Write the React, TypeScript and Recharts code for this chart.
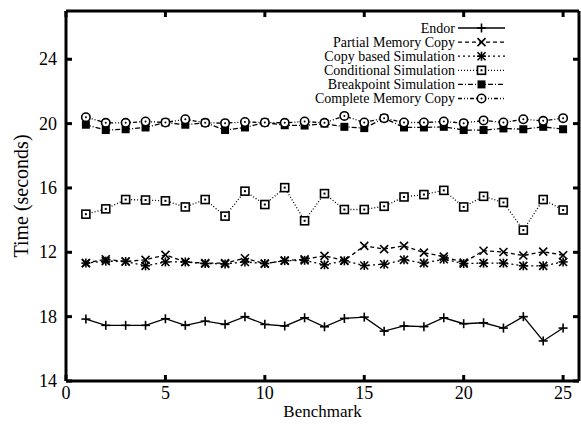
import React from 'react';
import { LineChart, Line, XAxis, YAxis, Label } from 'recharts';

const benchmarks = [1, 2, 3, 4, 5, 6, 7, 8, 9, 10, 11, 12, 13, 14, 15, 16, 17, 18, 19, 20, 21, 22, 23, 24, 25];

const endor = [7.85, 7.46, 7.46, 7.46, 7.87, 7.46, 7.72, 7.52, 8.0, 7.52, 7.42, 7.93, 7.37, 7.89, 7.97, 7.1, 7.42, 7.38, 7.93, 7.56, 7.62, 7.29, 8.0, 6.49, 7.29];
const partialCopy = [11.33, 11.57, 11.43, 11.53, 11.84, 11.4, 11.33, 11.33, 11.63, 11.3, 11.48, 11.57, 11.78, 11.49, 12.4, 12.2, 12.4, 11.98, 11.73, 11.36, 12.1, 12.02, 11.8, 12.04, 11.82];
const copySim = [11.33, 11.45, 11.43, 11.16, 11.4, 11.4, 11.3, 11.28, 11.4, 11.3, 11.48, 11.5, 11.22, 11.47, 11.18, 11.26, 11.53, 11.33, 11.57, 11.3, 11.33, 11.33, 11.16, 11.16, 11.4];
const conditional = [14.37, 14.7, 15.28, 15.25, 15.2, 14.82, 15.28, 14.25, 15.8, 14.97, 16.02, 13.96, 15.65, 14.66, 14.66, 14.86, 15.44, 15.59, 15.85, 14.82, 15.48, 15.1, 13.38, 15.28, 14.63];
const breakpoint = [19.93, 19.6, 19.65, 19.76, 20.07, 19.93, 20.05, 19.6, 19.76, 20.07, 19.9, 19.88, 20.0, 19.8, 19.72, 20.34, 19.76, 19.76, 19.8, 19.6, 19.6, 19.7, 19.65, 19.8, 19.65];
const completeCopy = [20.4, 20.05, 20.05, 20.13, 20.07, 20.27, 20.05, 20.03, 20.1, 20.07, 20.05, 20.13, 20.05, 20.48, 20.07, 20.34, 20.07, 20.07, 20.13, 20.03, 20.2, 20.07, 20.27, 20.17, 20.34];

const xTicks = [0, 5, 10, 15, 20, 25];
const yTicks = [4, 8, 12, 16, 20, 24];
const yTickLabels = ['14', '18', '12', '16', '20', '24'];

const FONT = "'Liberation Serif', 'Times New Roman', serif";

type Marker = 'plus' | 'cross' | 'star' | 'square' | 'filled' | 'circle';

const series: { key: string; name: string; dash: string; marker: Marker }[] = [
  { key: 'endor', name: 'Endor', dash: '', marker: 'plus' },
  { key: 'partial', name: 'Partial Memory Copy', dash: '4 3', marker: 'cross' },
  { key: 'copysim', name: 'Copy based Simulation', dash: '2 3', marker: 'star' },
  { key: 'cond', name: 'Conditional Simulation', dash: '1 2', marker: 'square' },
  { key: 'bp', name: 'Breakpoint Simulation', dash: '5 2 1 2', marker: 'filled' },
  { key: 'complete', name: 'Complete Memory Copy', dash: '4 2 1 2 1 2', marker: 'circle' },
];

const data = benchmarks.map((b, i) => ({
  b,
  endor: endor[i],
  partial: partialCopy[i],
  copysim: copySim[i],
  cond: conditional[i],
  bp: breakpoint[i],
  complete: completeCopy[i],
}));

const drawMarker = (m: Marker, cx: number, cy: number) => {
  const s = { stroke: '#000', strokeWidth: 1.6, fill: 'none' };
  switch (m) {
    case 'plus':
      return (
        <g>
          <line x1={cx - 4.5} y1={cy} x2={cx + 4.5} y2={cy} {...s} />
          <line x1={cx} y1={cy - 4.5} x2={cx} y2={cy + 4.5} {...s} />
        </g>
      );
    case 'cross':
      return (
        <g>
          <line x1={cx - 4} y1={cy - 4} x2={cx + 4} y2={cy + 4} {...s} />
          <line x1={cx - 4} y1={cy + 4} x2={cx + 4} y2={cy - 4} {...s} />
        </g>
      );
    case 'star':
      return (
        <g>
          <line x1={cx - 4} y1={cy - 4} x2={cx + 4} y2={cy + 4} {...s} />
          <line x1={cx - 4} y1={cy + 4} x2={cx + 4} y2={cy - 4} {...s} />
          <line x1={cx - 4.5} y1={cy} x2={cx + 4.5} y2={cy} {...s} />
          <line x1={cx} y1={cy - 4.5} x2={cx} y2={cy + 4.5} {...s} />
        </g>
      );
    case 'square':
      return (
        <g>
          <rect x={cx - 4} y={cy - 4} width={8} height={8} {...s} fill="#fff" />
          <rect x={cx - 1} y={cy - 1} width={2} height={2} fill="#000" />
        </g>
      );
    case 'filled':
      return <rect x={cx - 4} y={cy - 4} width={8} height={8} fill="#000" />;
    case 'circle':
      return (
        <g>
          <circle cx={cx} cy={cy} r={4.2} {...s} fill="#fff" />
          <circle cx={cx} cy={cy} r={1} fill="#000" />
        </g>
      );
  }
};

const textStyle = { fontFamily: FONT, fill: '#000' };

const BottomTick = (p: any) => (
  <g>
    <line x1={p.x} y1={p.y} x2={p.x} y2={p.y - 6} stroke="#000" strokeWidth={3} />
    <text x={p.x} y={p.y + 18} textAnchor="middle" style={{ ...textStyle, fontSize: 18 }}>
      {p.payload.value}
    </text>
  </g>
);

const TopTick = (p: any) => (
  <line x1={p.x} y1={p.y} x2={p.x} y2={p.y + 6} stroke="#000" strokeWidth={3} />
);

const LeftTick = (p: any) => (
  <g>
    <line x1={p.x} y1={p.y} x2={p.x + 6} y2={p.y} stroke="#000" strokeWidth={3} />
    <text x={p.x - 9} y={p.y + 6} textAnchor="end" style={{ ...textStyle, fontSize: 18 }}>
      {yTickLabels[yTicks.indexOf(p.payload.value)]}
    </text>
  </g>
);

const RightTick = (p: any) => (
  <line x1={p.x} y1={p.y} x2={p.x - 6} y2={p.y} stroke="#000" strokeWidth={3} />
);

const LegendBox = () => (
  <svg width={210} height={90} style={{ position: 'absolute', left: 300, top: 19 }}>
    {series.map((s, i) => {
      const y = 9 + i * 14.1;
      return (
        <g key={s.key}>
          <text x={155} y={y + 4.5} textAnchor="end" style={{ ...textStyle, fontSize: 14 }}>
            {s.name}
          </text>
          <line x1={158} y1={y} x2={205} y2={y} stroke="#000" strokeWidth={1.3} strokeDasharray={s.dash || undefined} />
          {drawMarker(s.marker, 181.5, y)}
        </g>
      );
    })}
  </svg>
);

export default function App() {
  return (
    <div style={{ position: 'absolute', left: 0, top: 0, width: 581, height: 424, background: '#fff', fontFamily: FONT }}>
      <LineChart width={581} height={424} data={data} margin={{ top: 10, right: 1, bottom: 42, left: 0 }}>
        <XAxis
          xAxisId="bottom"
          dataKey="b"
          type="number"
          domain={[0, 25.8]}
          ticks={xTicks}
          allowDataOverflow
          tickSize={0}
          tickMargin={0}
          height={1}
          tick={BottomTick}
          tickLine={false}
          axisLine={{ stroke: '#000', strokeWidth: 3 }}
        >
          <Label value="Benchmark" position="bottom" offset={23} style={{ ...textStyle, fontSize: 17 }} />
        </XAxis>
        <XAxis
          xAxisId="top"
          orientation="top"
          dataKey="b"
          type="number"
          domain={[0, 25.8]}
          ticks={xTicks}
          allowDataOverflow
          tickSize={0}
          tickMargin={0}
          height={1}
          tick={TopTick}
          tickLine={false}
          axisLine={{ stroke: '#000', strokeWidth: 3 }}
        />
        <YAxis
          yAxisId="left"
          type="number"
          domain={[4, 27]}
          ticks={yTicks}
          allowDataOverflow
          width={66}
          tickSize={0}
          tickMargin={0}
          tick={LeftTick}
          tickLine={false}
          axisLine={{ stroke: '#000', strokeWidth: 3 }}
        >
          <Label
            value="Time (seconds)"
            angle={-90}
            position="insideLeft"
            offset={21}
            style={{ ...textStyle, fontSize: 20, textAnchor: 'middle' }}
          />
        </YAxis>
        <YAxis
          yAxisId="right"
          orientation="right"
          type="number"
          domain={[4, 27]}
          ticks={yTicks}
          allowDataOverflow
          width={1}
          tickSize={0}
          tickMargin={0}
          tick={RightTick}
          tickLine={false}
          axisLine={{ stroke: '#000', strokeWidth: 3 }}
        />
        {series.map((s) => (
          <Line
            key={s.key}
            xAxisId="bottom"
            yAxisId="left"
            dataKey={s.key}
            name={s.name}
            type="linear"
            stroke="#000"
            strokeWidth={1.3}
            strokeDasharray={s.dash || undefined}
            dot={(p: any) => <g key={`${s.key}-${p.index}`}>{drawMarker(s.marker, p.cx, p.cy)}</g>}
            activeDot={false}
            isAnimationActive={false}
          />
        ))}
      </LineChart>
      <LegendBox />
    </div>
  );
}
